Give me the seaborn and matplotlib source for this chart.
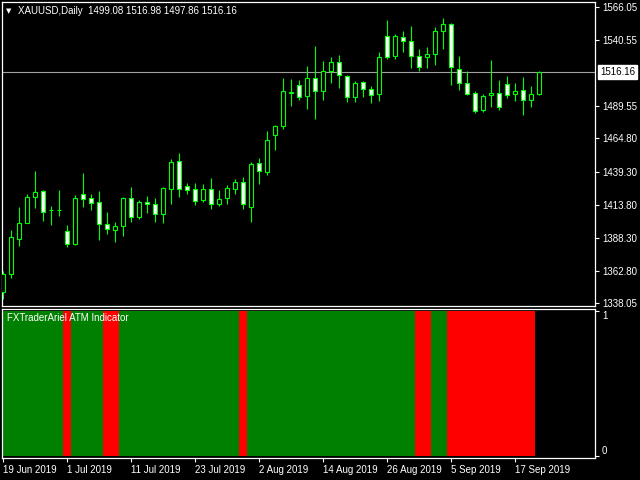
import numpy as np
import pandas as pd
import matplotlib
matplotlib.use("Agg")
import matplotlib.pyplot as plt
import matplotlib.transforms as mtransforms
import seaborn as sns

symbol = "XAUUSD"
period = "Daily"

# daily OHLC, 19 Jun 2019 .. 20 Sep 2019
opens = [1346.51, 1360.35, 1387.71, 1400.01, 1419.54, 1424.15, 1409.60, 1409.50,
         1393.40, 1383.87, 1421.84, 1418.77, 1415.69, 1398.78, 1394.63, 1397.70,
         1418.77, 1404.62, 1415.69, 1414.16, 1406.47, 1426.15, 1447.21, 1427.99,
         1425.69, 1417.69, 1425.69, 1414.16, 1419.23, 1426.15, 1431.07, 1412.31,
         1445.67, 1439.21, 1467.66, 1474.57, 1499.94, 1505.63, 1497.64, 1511.01,
         1501.48, 1516.39, 1523.31, 1512.55, 1496.41, 1507.94, 1502.56, 1498.71,
         1543.30, 1527.92, 1542.53, 1539.45, 1527.92, 1527.15, 1529.46, 1547.14,
         1552.52, 1517.93, 1507.17, 1499.48, 1486.41, 1497.94, 1499.48, 1506.40,
         1498.71, 1501.79, 1494.10, 1499.08]
highs = [1362.88, 1394.40, 1412.08, 1422.07, 1439.75, 1425.15, 1412.85, 1425.15,
         1398.24, 1421.07, 1438.21, 1422.07, 1424.38, 1408.24, 1400.55, 1420.00,
         1427.45, 1417.46, 1420.53, 1419.00, 1427.45, 1448.98, 1453.36, 1430.53,
         1430.30, 1429.76, 1434.37, 1425.15, 1429.22, 1433.60, 1435.14, 1446.67,
         1449.75, 1470.50, 1475.11, 1511.24, 1510.47, 1509.70, 1520.47, 1535.84,
         1524.31, 1527.38, 1528.92, 1513.55, 1508.70, 1508.94, 1504.86, 1531.23,
         1555.83, 1545.06, 1547.37, 1551.21, 1533.53, 1535.07, 1550.45, 1557.36,
         1553.29, 1528.15, 1516.39, 1501.25, 1498.71, 1525.08, 1509.70, 1512.78,
         1507.17, 1511.78, 1505.09, 1516.98]
lows = [1341.59, 1357.73, 1382.10, 1399.50, 1411.31, 1401.32, 1398.24, 1405.16,
        1381.56, 1383.10, 1412.31, 1410.00, 1386.94, 1391.55, 1385.41, 1390.02,
        1400.78, 1403.09, 1407.70, 1400.78, 1400.01, 1414.62, 1420.00, 1422.30,
        1413.85, 1415.92, 1410.77, 1413.08, 1414.62, 1422.30, 1410.54, 1400.78,
        1429.76, 1436.91, 1456.13, 1472.27, 1489.72, 1494.56, 1487.64, 1479.96,
        1494.56, 1507.63, 1503.79, 1493.02, 1493.02, 1496.87, 1492.25, 1493.79,
        1525.62, 1526.08, 1531.46, 1519.16, 1516.62, 1519.16, 1521.46, 1533.76,
        1506.09, 1502.25, 1497.94, 1484.57, 1485.34, 1489.18, 1486.41, 1496.10,
        1493.79, 1483.03, 1489.18, 1497.86]
closes = [1360.35, 1388.79, 1399.55, 1419.54, 1423.38, 1408.47, 1409.40, 1409.60,
          1383.87, 1418.77, 1418.46, 1415.38, 1399.24, 1395.40, 1397.24, 1418.77,
          1404.01, 1415.92, 1414.16, 1406.47, 1426.45, 1446.44, 1425.69, 1424.92,
          1416.92, 1425.69, 1414.16, 1418.00, 1426.45, 1431.07, 1414.16, 1444.90,
          1439.98, 1463.35, 1474.11, 1501.02, 1500.71, 1496.87, 1511.01, 1501.48,
          1516.39, 1523.31, 1513.32, 1496.41, 1507.17, 1502.56, 1497.94, 1527.15,
          1527.15, 1543.30, 1539.45, 1527.92, 1519.93, 1529.46, 1547.14, 1552.52,
          1519.47, 1507.17, 1498.71, 1485.64, 1497.17, 1499.48, 1488.72, 1497.94,
          1501.02, 1494.10, 1498.71, 1516.16]

# FXTraderAriel ATM indicator state per bar (G = green, R = red); last bar empty
atm_signal = ["G", "G", "G", "G", "G", "G", "G", "G", "R", "G", "G", "G", "G", "R", "R",
              "G", "G", "G", "G", "G", "G", "G", "G", "G", "G", "G", "G", "G", "G", "G",
              "R", "G", "G", "G", "G", "G", "G", "G", "G", "G", "G", "G", "G", "G", "G",
              "G", "G", "G", "G", "G", "G", "G", "R", "R", "G", "G", "R", "R", "R", "R",
              "R", "R", "R", "R", "R", "R", "R"]

price_ticks = [1338.05, 1362.80, 1388.30, 1413.80, 1439.30, 1464.80, 1489.55, 1540.55, 1566.05]
date_labels = ["19 Jun 2019", "1 Jul 2019", "11 Jul 2019", "23 Jul 2019", "2 Aug 2019",
               "14 Aug 2019", "26 Aug 2019", "5 Sep 2019", "17 Sep 2019"]

sns.set_style("dark", rc={"axes.facecolor": "black", "figure.facecolor": "black"})
plt.rcParams["font.family"] = ["Liberation Sans", "DejaVu Sans"]

o = np.array(opens)
h = np.array(highs)
l = np.array(lows)
c = np.array(closes)
x = np.arange(len(o))
bull = c >= o

fig = plt.figure(figsize=(6.4, 4.8), dpi=100)
fig.patch.set_facecolor("black")
ax = fig.add_axes([2 / 640, 1 - 306 / 480, 593 / 640, 304 / 480])
ax2 = fig.add_axes([2 / 640, 1 - 458 / 480, 593 / 640, 149 / 480])

lime = "#00FF00"
ax.axhline(c[-1], color="#A0A0A0", linewidth=0.8, zorder=1)
ax.vlines(x, l, h, color=lime, linewidth=0.8, zorder=2)
ax.bar(x, np.maximum(np.abs(c - o), 0.15), bottom=np.minimum(o, c), width=0.5,
       color=np.where(bull, "black", "white"), edgecolor=lime, linewidth=0.8, zorder=3)

xlim = (-0.125, 74.0)
ax.set_xlim(*xlim)
ax.set_ylim(1335.98, 1569.66)
ax.set_xticks([])
ax.yaxis.tick_right()
ax.set_yticks(price_ticks)
ax.set_yticklabels([f"{v:.2f}" for v in price_ticks])
ax.tick_params(axis="y", colors="white", labelcolor="white", labelsize=7, length=3,
               width=0.8, pad=2, right=True, left=False)

# current price label
trans = mtransforms.blended_transform_factory(ax.transAxes, ax.transData)
ax.text(1.009, c[-1], f"{c[-1]:.2f}", transform=trans, color="black", fontsize=7,
        va="center", ha="left", clip_on=False,
        bbox=dict(boxstyle="square,pad=0.2", facecolor="white", edgecolor="white"))

# indicator pane
df = pd.DataFrame({"bar": x[:len(atm_signal)], "value": 1.0, "state": atm_signal})
sns.barplot(data=df, x="bar", y="value", hue="state", palette={"G": "#008000", "R": "#FF0000"},
            native_scale=True, dodge=False, width=1.0, saturation=1, errorbar=None,
            linewidth=0, antialiased=False, legend=False, ax=ax2)
ax2.set_xlim(*xlim)
ax2.set_ylim(-0.014, 1.014)
ax2.set_xlabel("")
ax2.set_ylabel("")
ax2.set_xticks(x[::8])
ax2.set_xticklabels(date_labels, ha="left")
ax2.tick_params(axis="x", colors="white", labelcolor="white", labelsize=7, length=3,
                width=0.8, pad=2, bottom=True)
ax2.yaxis.tick_right()
ax2.set_yticks([0, 1])
ax2.set_yticklabels(["0", "1"])
ax2.tick_params(axis="y", colors="white", labelcolor="white", labelsize=7, length=3,
                width=0.8, pad=2, right=True, left=False)
ax2.get_yticklabels()[0].set_va("bottom")
ax2.get_yticklabels()[1].set_va("top")

for a in (ax, ax2):
    a.grid(False)
    for s in a.spines.values():
        s.set_visible(True)
        s.set_color("white")
        s.set_linewidth(0.9)

fig.text(6 / 640, 1 - 11 / 480, "\u25bc", color="white", fontsize=5, va="center",
         family=["DejaVu Sans"])
fig.text(18 / 640, 1 - 11 / 480,
         f"{symbol},{period}  {o[-1]:.2f} {h[-1]:.2f} {l[-1]:.2f} {c[-1]:.2f}",
         color="white", fontsize=7, va="center")
fig.text(7 / 640, 1 - 318 / 480, "FXTraderAriel ATM Indicator", color="white",
         fontsize=7, va="center")

fig.savefig("out.png", dpi=100, facecolor="black")
